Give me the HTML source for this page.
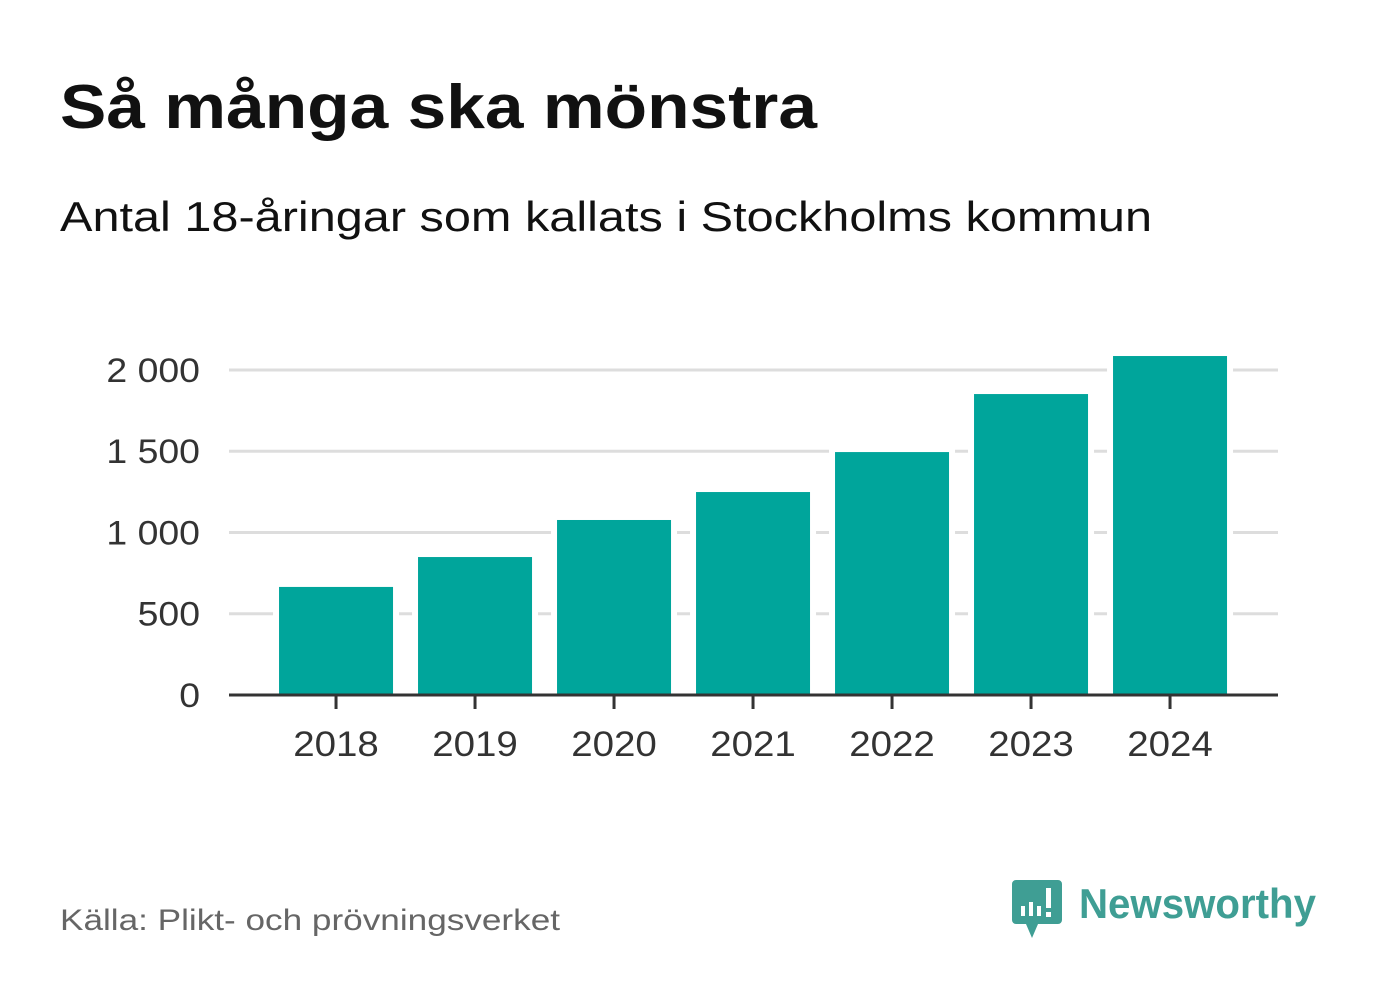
<!DOCTYPE html>
<html><head><meta charset="utf-8"><style>
body{margin:0;background:#fff;width:1382px;height:999px;overflow:hidden;font-family:"Liberation Sans","DejaVu Sans",sans-serif}
</style></head><body>
<svg width="1382" height="999" xmlns="http://www.w3.org/2000/svg">
<text x="60" y="128" font-size="62" font-weight="bold" fill="#111" textLength="757" lengthAdjust="spacingAndGlyphs">Så många ska mönstra</text>
<text x="60" y="231" font-size="42" fill="#111" textLength="1092" lengthAdjust="spacingAndGlyphs">Antal 18-åringar som kallats i Stockholms kommun</text>
<g id="grid"></g><g id="bars"></g><g id="axes"></g>
<text x="60" y="930" font-size="30" fill="#666" textLength="500" lengthAdjust="spacingAndGlyphs">Källa: Plikt- och prövningsverket</text>
<g>
<path d="M1016 880 h42 a4 4 0 0 1 4 4 v36 a4 4 0 0 1 -4 4 h-20 l-6 14 l-6 -14 h-10 a4 4 0 0 1 -4 -4 v-36 a4 4 0 0 1 4 -4z" fill="#3f9e94"/>
<rect x="1021" y="906" width="4" height="10" fill="#fff"/><rect x="1029" y="902" width="4" height="14" fill="#fff"/><rect x="1037" y="906" width="4" height="10" fill="#fff"/><rect x="1046" y="888" width="5" height="20" fill="#fff"/><rect x="1046" y="912" width="5" height="5" fill="#fff"/>
<text x="1079" y="918" font-size="42" font-weight="bold" fill="#3f9e94" textLength="237" lengthAdjust="spacingAndGlyphs">Newsworthy</text>
</g>
</svg>
<script>
const years=["2018","2019","2020","2021","2022","2023","2024"];
const values=[665,849,1077,1249,1495,1852,2086];
const yTicks=[0,500,1000,1500,2000];
const yTickLabels=["0","500","1 000","1 500","2 000"];
const NS="http://www.w3.org/2000/svg";
const x0=229,x1=1278,y0=695,yTop=370,step=139,bw=114;
const y=v=>y0-(v/2000)*(y0-yTop);
const xc=i=>x0+step*0.77+i*step;
function mk(t,a,p){const e=document.createElementNS(NS,t);for(const k in a)e.setAttribute(k,a[k]);p.appendChild(e);return e;}
const grid=document.getElementById('grid'),bars=document.getElementById('bars'),axes=document.getElementById('axes');
yTicks.forEach((v,i)=>{
 if(v>0){const l=mk('line',{x1:x0,x2:x1,y1:y(v),y2:y(v),stroke:'#ddd','stroke-width':3},grid);
 
 }
 const t=mk('text',{x:200,y:y(v)+12,'text-anchor':'end','font-size':34,fill:'#333',transform:`translate(200 0) scale(1.1 1) translate(-200 0)`},axes);t.textContent=yTickLabels[i];
 
 
});
values.forEach((v,i)=>{
 const cx=xc(i);
 const r=mk('rect',{x:cx-bw/2-6,y:y(v)-4,width:bw+12,height:y0-y(v)+4,fill:'#fff'},bars);
 
 
 const b=mk('rect',{x:cx-bw/2,y:y(v),width:bw,height:y0-y(v),fill:'#00a59b'},bars);
 
 
 const tk=mk('line',{x1:cx,x2:cx,y1:y0,y2:y0+14,stroke:'#333','stroke-width':3},axes);
 
 
 const t=mk('text',{x:cx,y:y0+61,'text-anchor':'middle','font-size':35,fill:'#333',transform:`translate(${cx} 0) scale(1.1 1) translate(${-cx} 0)`},axes);t.textContent=years[i];
 
 
});
const ax=mk('line',{x1:x0,x2:x1,y1:y0,y2:y0,stroke:'#333','stroke-width':3},axes);


</script>
</body></html>
